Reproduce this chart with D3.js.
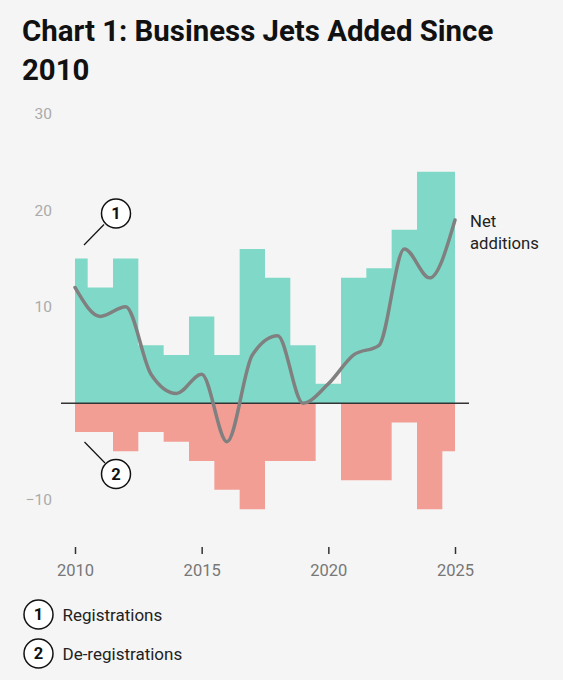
<!DOCTYPE html>
<html><head><meta charset="utf-8">
<script src="https://cdn.jsdelivr.net/npm/d3@7"></script>
<style>
html,body{margin:0;padding:0;background:#f5f5f5;}
svg{display:block;font-family:Roboto,"Noto Sans",sans-serif;}
</style></head>
<body>
<svg id="c" width="563" height="680"></svg>
<script>
const years = [2010,2011,2012,2013,2014,2015,2016,2017,2018,2019,2020,2021,2022,2023,2024,2025];
const registrations = [15,12,15,6,5,9,5,16,13,6,2,13,14,18,24,24];
const deregistrations = [-3,-3,-5,-3,-4,-6,-9,-11,-6,-6,0,-8,-8,-2,-11,-5];
const netAdditions = years.map((y,i)=>registrations[i]+deregistrations[i]);
const yTicks = [30,20,10,-10];
const xTicks = [2010,2015,2020,2025];

const svg = d3.select("#c");
svg.append("rect").attr("width",563).attr("height",680).attr("fill","#f5f5f5");

const x = d3.scaleLinear().domain([2010,2025]).range([75,455]);
const y = d3.scaleLinear().domain([-10,30]).range([499.5,114]);

// title
const title = svg.append("text").attr("x",22).attr("font-size",29.4).attr("font-weight",700).attr("fill","#111");
title.append("tspan").attr("x",22).attr("y",41).text("Chart 1: Business Jets Added Since");
title.append("tspan").attr("x",22).attr("y",80).text("2010");

// areas
const area = d3.area().x((d,i)=>x(years[i])).y0(y(0)).y1(d=>y(d)).curve(d3.curveStep);
svg.append("path").datum(registrations).attr("d",area).attr("fill","#80d9c8");
svg.append("path").datum(deregistrations).attr("d",area).attr("fill","#f29e95");

// y axis labels
svg.append("g").selectAll("text").data(yTicks).join("text")
  .attr("x",52).attr("y",d=>y(d)).attr("dy","0.35em").attr("text-anchor","end")
  .attr("font-size",15.5).attr("fill","#aaaaaa")
  .text(d=>d<0?"\u2212"+Math.abs(d):d);

// zero line
svg.append("line").attr("x1",61).attr("x2",469).attr("y1",y(0)).attr("y2",y(0))
  .attr("stroke","#333").attr("stroke-width",1.5);

// net line
const line = d3.line().x((d,i)=>x(years[i])).y(d=>y(d)).curve(d3.curveMonotoneX);
svg.append("path").datum(netAdditions).attr("d",line).attr("fill","none")
  .attr("stroke","#808080").attr("stroke-width",3.5).attr("stroke-linecap","round");

// x axis
const xa = svg.append("g").attr("transform","translate(0,547)");
xa.call(d3.axisBottom(x).tickValues(xTicks).tickFormat(d3.format("d")).tickSize(7).tickPadding(10));
xa.select(".domain").remove();
xa.selectAll(".tick line").attr("stroke","#333").attr("stroke-width",1.5);
xa.selectAll(".tick text").attr("font-size",16.5).attr("fill","#777").attr("font-family","Roboto,sans-serif");

// net additions label
const nl = svg.append("text").attr("font-size",16.7).attr("fill","#222");
nl.append("tspan").attr("x",470).attr("y",227).text("Net");
nl.append("tspan").attr("x",470).attr("y",248.5).text("additions");

// annotations
function badge(cx,cy,label){
  svg.append("circle").attr("cx",cx).attr("cy",cy).attr("r",14.5)
    .attr("fill","#fff").attr("stroke","#111").attr("stroke-width",1.5);
  svg.append("text").attr("x",cx).attr("y",cy).attr("dy","0.36em").attr("text-anchor","middle")
    .attr("font-size",16.5).attr("font-weight",700).attr("fill","#111").text(label);
}
svg.append("line").attr("x1",84).attr("y1",245).attr("x2",104).attr("y2",224.5).attr("stroke","#111").attr("stroke-width",1.2);
badge(116,213.5,"1");
svg.append("line").attr("x1",84.5).attr("y1",442).attr("x2",105).attr("y2",463).attr("stroke","#111").attr("stroke-width",1.2);
badge(116,474,"2");

// legend
const legend = [["1","Registrations"],["2","De-registrations"]];
legend.forEach((d,i)=>{
  const cy = 614.5 + i*39;
  badge(38.5,cy,d[0]);
  svg.append("text").attr("x",62.5).attr("y",cy).attr("dy","0.36em").attr("font-size",17).attr("fill","#222").text(d[1]);
});
</script>
</body></html>
